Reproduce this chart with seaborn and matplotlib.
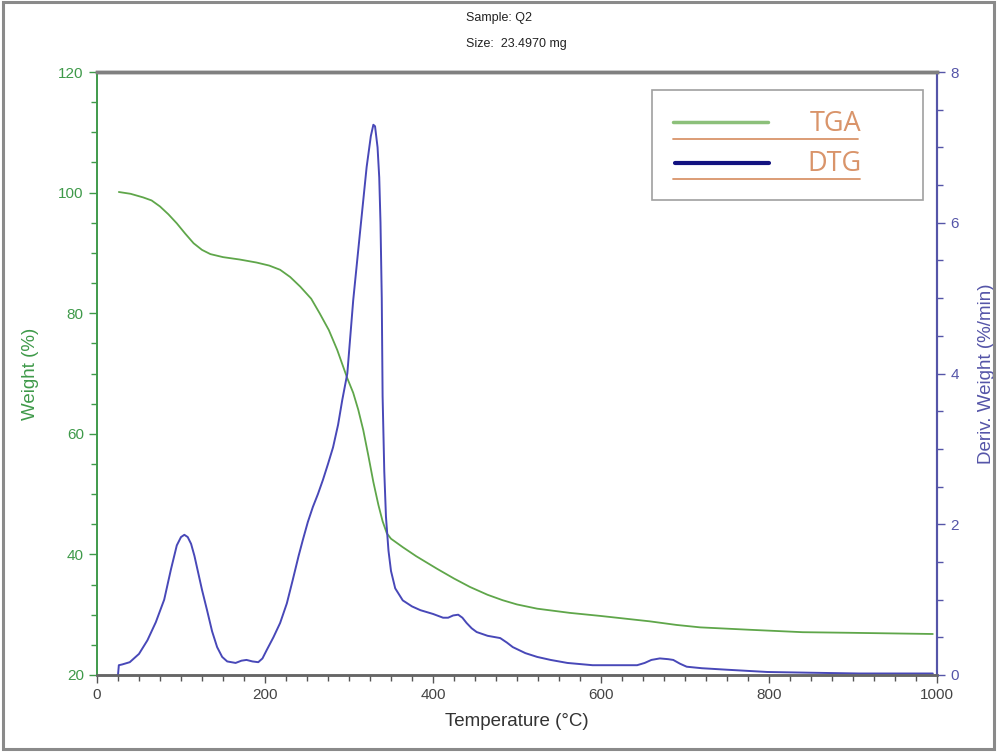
import matplotlib
matplotlib.use("Agg")
import matplotlib.pyplot as plt
import seaborn as sns
import pandas as pd
from matplotlib.ticker import MultipleLocator
from matplotlib.patches import Rectangle
from matplotlib.lines import Line2D

# ---------------- data ----------------
tga_temp = [26, 40, 55, 65, 75, 85, 95, 105, 115, 125, 135, 150, 170, 190, 205, 218,
            230, 242, 255, 265, 276, 286, 298, 305, 311, 317, 323, 329, 335, 340, 345,
            350, 357, 364, 380, 405, 425, 444, 465, 483, 500, 524, 563, 599, 658, 690,
            718, 777, 840, 896, 995]
tga_weight = [100.1, 99.8, 99.2, 98.7, 97.7, 96.4, 94.9, 93.2, 91.6, 90.5, 89.8, 89.3,
              88.9, 88.4, 87.9, 87.2, 86.0, 84.4, 82.4, 80.0, 77.2, 73.9, 69.2, 66.8,
              64.0, 60.6, 56.4, 52.0, 48.2, 45.5, 43.5, 42.6, 41.9, 41.2, 39.7, 37.6,
              36.0, 34.6, 33.3, 32.4, 31.7, 31.0, 30.3, 29.8, 28.9, 28.3, 27.9, 27.5,
              27.1, 27.0, 26.8]

dtg_temp = [25, 26, 30, 39, 50, 60, 70, 80, 88, 95, 100, 104, 108, 112, 116, 120, 125,
            131, 137, 143, 149, 155, 165, 172, 178, 185, 192, 197, 202, 210, 218, 226,
            233, 240, 245, 251, 257, 263, 269, 275, 281, 287, 292, 298, 305, 313, 321,
            326, 329, 331, 334, 336, 337.5, 339, 340, 342, 344, 347, 350, 355, 364, 375,
            385, 400, 412, 418, 424, 430, 435, 440, 446, 452, 465, 475, 480, 488, 495,
            510, 524, 540, 560, 590, 643, 652, 660, 670, 680, 686, 694, 702, 720, 750,
            798, 850, 908, 995]
dtg_deriv = [0.0, 0.13, 0.14, 0.17, 0.28, 0.46, 0.70, 1.00, 1.40, 1.72, 1.83, 1.86,
             1.83, 1.74, 1.58, 1.38, 1.13, 0.86, 0.58, 0.37, 0.24, 0.18, 0.16, 0.19,
             0.20, 0.18, 0.17, 0.22, 0.33, 0.50, 0.69, 0.95, 1.26, 1.58, 1.79, 2.03,
             2.23, 2.40, 2.59, 2.80, 3.02, 3.32, 3.65, 4.00, 4.97, 5.86, 6.74, 7.15,
             7.30, 7.28, 7.00, 6.60, 6.00, 5.00, 3.70, 2.70, 2.10, 1.65, 1.38, 1.15,
             0.99, 0.91, 0.86, 0.81, 0.76, 0.76, 0.79, 0.80, 0.76, 0.69, 0.62, 0.57,
             0.52, 0.50, 0.49, 0.43, 0.37, 0.29, 0.24, 0.20, 0.16, 0.13, 0.13, 0.16,
             0.20, 0.22, 0.21, 0.20, 0.15, 0.11, 0.09, 0.07, 0.04, 0.03, 0.02, 0.02]

x_ticks = [0, 200, 400, 600, 800, 1000]
left_ticks = [20, 40, 60, 80, 100, 120]
right_ticks = [0, 2, 4, 6, 8]
legend_labels = ["TGA", "DTG"]
title_lines = ["Sample: Q2", "Size:  23.4970 mg"]

tga_df = pd.DataFrame({"Temperature": tga_temp, "Weight": tga_weight})
dtg_df = pd.DataFrame({"Temperature": dtg_temp, "Deriv": dtg_deriv})

# ---------------- style ----------------
sns.set_theme(style="white")
plt.rcParams["font.family"] = ["Liberation Sans Narrow", "Liberation Sans", "DejaVu Sans"]

GREEN_LINE = "#5fa64a"
GREEN_AX = "#3f9a4a"
BLUE_LINE = "#4848b8"
BLUE_AX = "#5555a8"
GRAY = "#808080"
ORANGE = "#d9946a"

fig = plt.figure(figsize=(9.97, 7.53), dpi=100)
ax = fig.add_axes([97 / 997, 1 - 675 / 753, (937 - 97) / 997, (675 - 72) / 753])
ax2 = ax.twinx()

sns.lineplot(data=tga_df, x="Temperature", y="Weight", ax=ax, color=GREEN_LINE,
             linewidth=1.3, sort=False, estimator=None)
sns.lineplot(data=dtg_df, x="Temperature", y="Deriv", ax=ax2, color=BLUE_LINE,
             linewidth=1.4, sort=False, estimator=None)

ax.set_xlim(0, 1000)
ax.set_ylim(20, 120)
ax2.set_ylim(0, 8)

ax.set_xticks(x_ticks)
ax.set_yticks(left_ticks)
ax2.set_yticks(right_ticks)
ax.xaxis.set_minor_locator(MultipleLocator(25))
ax.yaxis.set_minor_locator(MultipleLocator(5))
ax2.yaxis.set_minor_locator(MultipleLocator(0.5))

ax.set_xlabel("Temperature (°C)", fontsize=13.5, color="#333333", labelpad=8)
ax.set_ylabel("Weight (%)", fontsize=13.5, color=GREEN_AX, labelpad=14)
ax2.set_ylabel("Deriv. Weight (%/min)", fontsize=13.5, color=BLUE_AX, labelpad=14)

ax.tick_params(axis="x", which="major", direction="out", length=6, width=1,
               colors="#555555", labelcolor="#444444", labelsize=11, bottom=True)
ax.tick_params(axis="x", which="minor", direction="out", length=4, width=1,
               colors="#555555", bottom=True)
ax.tick_params(axis="y", which="major", direction="out", length=6, width=1,
               colors=GREEN_AX, labelcolor=GREEN_AX, labelsize=11, left=True)
ax.tick_params(axis="y", which="minor", direction="out", length=4, width=1,
               colors=GREEN_AX, left=True)
ax2.tick_params(axis="y", which="major", direction="out", length=6, width=1,
                colors=BLUE_AX, labelcolor=BLUE_AX, labelsize=11, right=True)
ax2.tick_params(axis="y", which="minor", direction="out", length=4, width=1,
                colors=BLUE_AX, right=True)

for a in (ax, ax2):
    a.spines["top"].set_color(GRAY)
    a.spines["top"].set_linewidth(2.5)
    a.spines["bottom"].set_color("#666666")
    a.spines["bottom"].set_linewidth(1.8)
    a.spines["left"].set_color(GREEN_AX)
    a.spines["left"].set_linewidth(1.2)
    a.spines["right"].set_color(BLUE_AX)
    a.spines["right"].set_linewidth(1.5)


def fx(px):
    return px / 997


def fy(py):
    return 1 - py / 753


# title text
fig.text(fx(466), fy(18), title_lines[0], fontsize=9, color="#222222",
         ha="left", va="center")
fig.text(fx(466), fy(44), title_lines[1], fontsize=9, color="#222222",
         ha="left", va="center")

# custom legend box
fig.patches.append(Rectangle((fx(652), fy(200)), fx(923) - fx(652), fy(90) - fy(200),
                             transform=fig.transFigure, fill=False,
                             edgecolor="#a0a0a0", linewidth=1.2, zorder=5))
leg_font = ["Open Sans", "Liberation Sans", "DejaVu Sans"]
fig.lines.append(Line2D([fx(673), fx(768)], [fy(122), fy(122)], transform=fig.transFigure,
                        color="#8cc07a", linewidth=2.5))
fig.lines.append(Line2D([fx(673), fx(858)], [fy(139), fy(139)], transform=fig.transFigure,
                        color=ORANGE, linewidth=1.3))
fig.lines.append(Line2D([fx(675), fx(769)], [fy(163), fy(163)], transform=fig.transFigure,
                        color="#121280", linewidth=3))
fig.lines.append(Line2D([fx(673), fx(860)], [fy(179), fy(179)], transform=fig.transFigure,
                        color=ORANGE, linewidth=1.3))
fig.text(fx(861), fy(124), legend_labels[0], fontsize=19.5, color=ORANGE, ha="right",
         va="center", family=leg_font)
fig.text(fx(861), fy(164), legend_labels[1], fontsize=19.5, color=ORANGE, ha="right",
         va="center", family=leg_font)

# outer frame
fig.patches.append(Rectangle((fx(3), fy(749)), fx(994) - fx(3), fy(2) - fy(749),
                             transform=fig.transFigure, fill=False,
                             edgecolor="#8a8a8a", linewidth=2.2, zorder=5))

fig.savefig("out.png", dpi=100)
